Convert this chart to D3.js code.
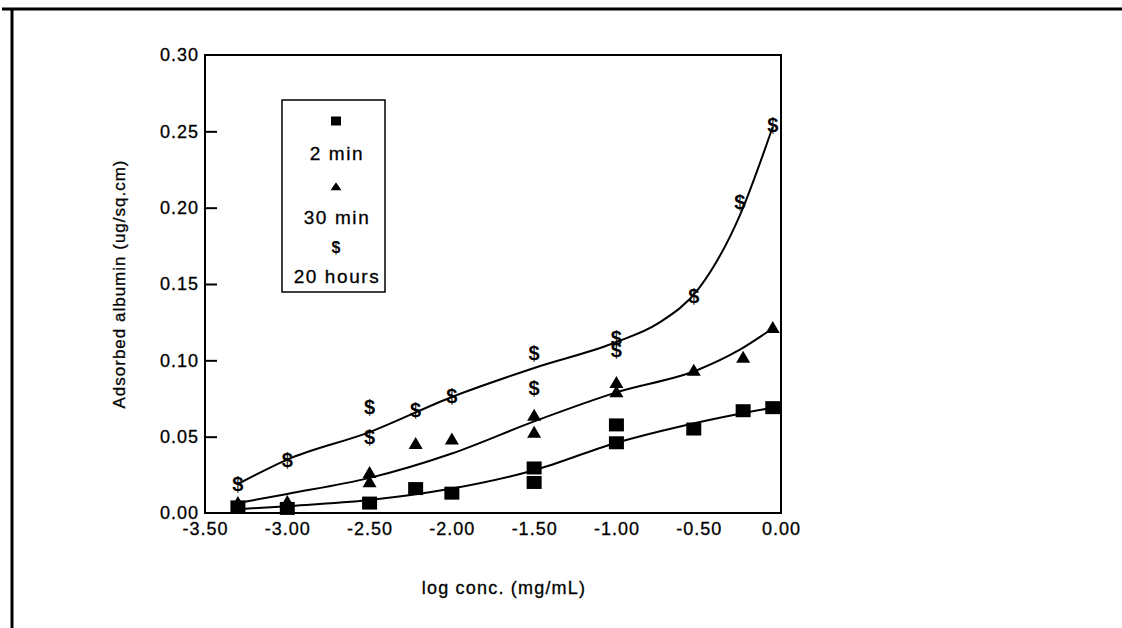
<!DOCTYPE html>
<html>
<head>
<meta charset="utf-8">
<script src="https://d3js.org/d3.v7.min.js"></script>
<style>
body { margin: 0; background: #fff; }
svg { font-family: "Liberation Sans", Arial, sans-serif; }
.lbl { font-size: 18px; letter-spacing: 1px; stroke: #000; stroke-width: 0.3; fill: #000; }
</style>
</head>
<body>
<svg id="chart" width="1122" height="628"></svg>
<script>
// measured points (log conc, adsorbed albumin)
const min2X = [-3.30, -3.00, -2.50, -2.22, -2.00, -1.50, -1.50, -1.00, -1.00, -0.53, -0.23, -0.05];
const min2Y = [0.004, 0.003, 0.0065, 0.016, 0.013, 0.0295, 0.020, 0.0577, 0.046, 0.055, 0.067, 0.069];

const min30X = [-3.30, -3.00, -2.50, -2.50, -2.22, -2.00, -1.50, -1.50, -1.00, -1.00, -0.53, -0.23, -0.05];
const min30Y = [0.0065, 0.007, 0.026, 0.020, 0.045, 0.048, 0.0636, 0.0524, 0.085, 0.079, 0.093, 0.1015, 0.121];

const hr20X = [-3.30, -3.00, -2.50, -2.50, -2.22, -2.00, -1.50, -1.50, -1.00, -1.00, -0.53, -0.25, -0.05];
const hr20Y = [0.019, 0.035, 0.0695, 0.050, 0.0675, 0.077, 0.105, 0.082, 0.115, 0.107, 0.142, 0.204, 0.254];

// fitted curves
const fit2X = [-3.30, -3.00, -2.50, -2.00, -1.50, -1.00, -0.60, -0.25, -0.05];
const fit2Y = [0.0025, 0.0045, 0.0085, 0.016, 0.028, 0.046, 0.057, 0.065, 0.069];
const fit30X = [-3.30, -3.00, -2.50, -2.00, -1.50, -1.00, -0.50, -0.25, -0.05];
const fit30Y = [0.0065, 0.0125, 0.023, 0.039, 0.060, 0.079, 0.094, 0.107, 0.121];
const fit20X = [-3.30, -3.00, -2.50, -2.00, -1.50, -1.00, -0.75, -0.50, -0.25, -0.05];
const fit20Y = [0.019, 0.035, 0.053, 0.076, 0.095, 0.112, 0.124, 0.147, 0.195, 0.253];

const xTicks = [-3.5, -3.0, -2.5, -2.0, -1.5, -1.0, -0.5, 0.0];
const yTicks = [0.00, 0.05, 0.10, 0.15, 0.20, 0.25, 0.30];
const legendLabels = ["2 min", "30 min", "20 hours"];

const svg = d3.select("#chart");
const fmt = d => d3.format(".2f")(d).replace("\u2212", "-");

// outer frame (top and left only)
svg.append("line").attr("x1", 2).attr("x2", 1122).attr("y1", 9).attr("y2", 9)
   .attr("stroke", "#000").attr("stroke-width", 3);
svg.append("line").attr("x1", 12).attr("x2", 12).attr("y1", 8).attr("y2", 628)
   .attr("stroke", "#000").attr("stroke-width", 3);

const m = { left: 205, right: 781, top: 55, bottom: 513 };
const x = d3.scaleLinear().domain([-3.5, 0]).range([m.left, m.right]);
const y = d3.scaleLinear().domain([0, 0.30]).range([m.bottom, m.top]);

// plot box
svg.append("rect").attr("x", m.left).attr("y", m.top)
   .attr("width", m.right - m.left).attr("height", m.bottom - m.top)
   .attr("fill", "none").attr("stroke", "#000").attr("stroke-width", 2);

// y axis, ticks pointing inward
const yAxis = svg.append("g").attr("transform", `translate(${m.left},0)`)
   .call(d3.axisLeft(y).tickValues(yTicks).tickFormat(fmt).tickSize(-12).tickPadding(6));
yAxis.select(".domain").remove();
yAxis.selectAll("line").attr("stroke", "#000").attr("stroke-width", 2);
yAxis.selectAll("text").attr("class", "lbl");
yAxis.selectAll(".tick").filter(d => d === 0 || d === 0.3).select("line").remove();
yAxis.attr("font-size", null).attr("font-family", null);

// x axis, labels only
const xAxis = svg.append("g").attr("transform", `translate(0,${m.bottom})`)
   .call(d3.axisBottom(x).tickValues(xTicks).tickFormat(fmt).tickSize(0).tickPadding(9));
xAxis.select(".domain").remove();
xAxis.selectAll("text").attr("class", "lbl");
xAxis.attr("font-size", null).attr("font-family", null);

// axis titles
svg.append("text").attr("class", "lbl").attr("transform", `translate(125,${(m.top + m.bottom) / 2}) rotate(-90)`)
   .attr("text-anchor", "middle").style("font-size", "17px").text("Adsorbed albumin (ug/sq.cm)");
svg.append("text").attr("class", "lbl").attr("x", 504).attr("y", 594)
   .attr("text-anchor", "middle").style("font-size", "18px").style("letter-spacing", "1.2px").text("log conc. (mg/mL)");

// fit curves
const line = d3.line().x(d => x(d[0])).y(d => y(d[1])).curve(d3.curveMonotoneX);
[[fit2X, fit2Y], [fit30X, fit30Y], [fit20X, fit20Y]].forEach(([xs, ys]) => {
    svg.append("path").datum(xs.map((v, i) => [v, ys[i]]))
       .attr("d", line).attr("fill", "none").attr("stroke", "#000").attr("stroke-width", 2);
});

// marker shapes
const sqPath = (w, h) => `M${-w / 2},${-h / 2}h${w}v${h}h${-w}Z`;
const triPath = (w, h) => `M0,${-h * 0.6}L${w / 2},${h * 0.4}L${-w / 2},${h * 0.4}Z`;

svg.append("g").selectAll("path").data(min2X.map((v, i) => [v, min2Y[i]])).join("path")
   .attr("d", sqPath(15, 13)).attr("transform", d => `translate(${x(d[0])},${y(d[1])})`).attr("fill", "#000");

svg.append("g").selectAll("path").data(min30X.map((v, i) => [v, min30Y[i]])).join("path")
   .attr("d", triPath(14, 12)).attr("transform", d => `translate(${x(d[0])},${y(d[1])})`).attr("fill", "#000");

svg.append("g").selectAll("text").data(hr20X.map((v, i) => [v, hr20Y[i]])).join("text")
   .attr("x", d => x(d[0])).attr("y", d => y(d[1])).attr("dy", "0.36em")
   .attr("text-anchor", "middle").attr("font-size", 20).attr("font-weight", "bold").text("$");

// legend
const lg = svg.append("g");
lg.append("rect").attr("x", 282).attr("y", 100).attr("width", 103).attr("height", 192)
  .attr("fill", "#fff").attr("stroke", "#000").attr("stroke-width", 1.5);
const cx = 336;
lg.append("path").attr("d", sqPath(10, 9)).attr("transform", `translate(${cx},121)`).attr("fill", "#000");
lg.append("path").attr("d", triPath(11, 8)).attr("transform", `translate(${cx},187)`).attr("fill", "#000");
lg.append("text").attr("x", cx).attr("y", 247).attr("dy", "0.36em").attr("text-anchor", "middle")
  .attr("font-size", 16).attr("font-weight", "bold").text("$");
lg.selectAll("text.lab").data(legendLabels).join("text").attr("class", "lbl")
  .attr("x", cx + 1).attr("y", (d, i) => [153, 217, 276][i]).attr("dy", "0.35em")
  .attr("text-anchor", "middle").style("font-size", "19px").style("letter-spacing", "1.6px").text(d => d);
</script>
</body>
</html>
